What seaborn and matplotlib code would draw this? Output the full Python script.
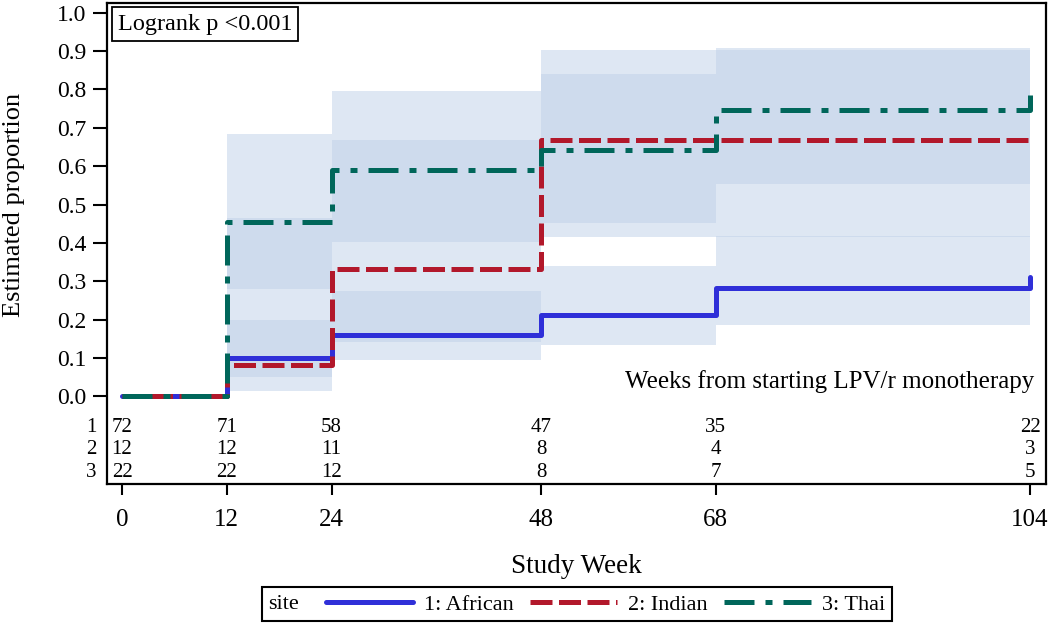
import seaborn as sns
import matplotlib.pyplot as plt
import pandas as pd
from matplotlib.lines import Line2D
from matplotlib.offsetbox import HPacker

# step estimates, value holds from weeks[i] onwards
weeks = [0, 12, 24, 48, 68, 104]
sites = ['1: African', '2: Indian', '3: Thai']

african_est = [0.0, 0.100, 0.160, 0.213, 0.282, 0.312]
indian_est = [0.0, 0.083, 0.333, 0.667, 0.667, 0.667]
thai_est = [0.0, 0.455, 0.591, 0.641, 0.745, 0.785]

# confidence bands
african_lo = [0.0, 0.051, 0.096, 0.135, 0.185, 0.185]
african_hi = [0.0, 0.198, 0.274, 0.339, 0.419, 0.419]
indian_lo = [0.0, 0.015, 0.142, 0.416, 0.416, 0.416]
indian_hi = [0.0, 0.464, 0.668, 0.902, 0.902, 0.902]
thai_lo = [0.0, 0.279, 0.403, 0.451, 0.553, 0.553]
thai_hi = [0.0, 0.685, 0.796, 0.839, 0.908, 0.908]

# numbers at risk
risk_weeks = [0, 12, 24, 48, 68, 104]
african_risk = [72, 71, 58, 47, 35, 22]
indian_risk = [12, 12, 11, 8, 4, 3]
thai_risk = [22, 22, 12, 8, 7, 5]

sns.set_theme(style="ticks")
plt.rcParams['font.family'] = ['Liberation Serif', 'DejaVu Serif']
plt.rcParams.update({'text.color': 'black', 'axes.labelcolor': 'black',
                     'xtick.color': 'black', 'ytick.color': 'black'})

colors = ['#2f2fd8', '#b2182b', '#00665a']
styles = ['-', (0, (4.4, 1.3)), (0, (6, 2.2, 1.4, 2.2))]
lw = 3.6

fig = plt.figure(figsize=(10.5, 6.23), dpi=100)
ax = fig.add_axes([0.1019, 0.2231, 0.8943, 0.7721])

ests = [african_est, indian_est, thai_est]
los = [african_lo, indian_lo, thai_lo]
his = [african_hi, indian_hi, thai_hi]

for lo, hi in zip(los, his):
    ax.fill_between(weeks, lo, hi, step='post', color='#bfd1e8', alpha=0.5, lw=0, zorder=1)

for est, site, col, ls in zip(ests, sites, colors, styles):
    df = pd.DataFrame({'week': weeks, 'prop': est})
    sns.lineplot(data=df, x='week', y='prop', ax=ax, estimator=None, sort=False,
                 drawstyle='steps-post', color=col, lw=lw, linestyle=ls, zorder=3)

ax.set_xlim(-1.72, 105.83)
ax.set_ylim(-0.228, 1.025)
ax.set_yticks([i / 10 for i in range(11)])
ax.set_yticklabels(['%.1f' % (i / 10) for i in range(11)])
ax.set_xticks(risk_weeks)
ax.set_xticklabels([str(w) for w in risk_weeks])
ax.tick_params(axis='y', labelsize=17, length=10, width=1.5, pad=5)
ax.tick_params(axis='x', labelsize=18, length=8, width=1.5, pad=10)
for s in ax.spines.values():
    s.set_linewidth(1.6)
    s.set_color('black')

ax.set_ylabel('Estimated proportion', fontsize=19)
ax.yaxis.set_label_coords(-0.087, 0.581)
ax.set_xlabel('Study Week', fontsize=19.5)
ax.xaxis.set_label_coords(0.5, -0.145)

# at-risk table
row_y = [-0.0815, -0.139, -0.199]
for k, (risk, yy) in enumerate(zip([african_risk, indian_risk, thai_risk], row_y)):
    for w, n in zip(risk_weeks, risk):
        ax.text(w, yy, str(n), ha='center', va='center', fontsize=15)
    ax.text(-0.011, yy, str(k + 1), ha='right', va='center', fontsize=15,
            transform=ax.get_yaxis_transform())

ax.text(0.988, 0.039, 'Weeks from starting LPV/r monotherapy', ha='right', va='center',
        fontsize=18, transform=ax.get_yaxis_transform())

ax.text(0.0115, 0.978, 'Logrank p <0.001', ha='left', va='top', fontsize=17.5,
        transform=ax.transAxes,
        bbox=dict(boxstyle='square,pad=0.25', fc='white', ec='black', lw=1.3))

handles = [Line2D([], [], color=c, lw=lw, linestyle=ls) for c, ls in zip(colors, styles)]
leg = fig.legend(handles, sites, title='site', ncol=3, loc='center',
                 bbox_to_anchor=(0.5495, 0.03), fontsize=16, title_fontsize=16,
                 frameon=True, fancybox=False, edgecolor='black', framealpha=1,
                 borderpad=0.3, handlelength=3.9, handletextpad=0.5,
                 columnspacing=0.75, labelspacing=1.2)
leg.get_frame().set_linewidth(1.5)
leg._legend_box.__class__ = HPacker

fig.savefig('out.png', dpi=100)
